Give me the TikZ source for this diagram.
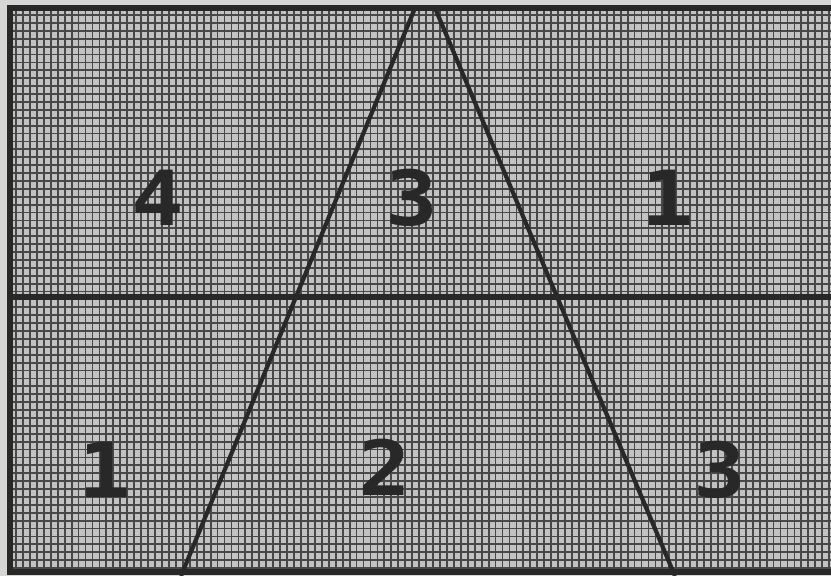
\documentclass[tikz,border=0pt]{standalone}
\usepackage{fontspec}
\newfontfamily\digitfont{DejaVu Sans Mono}
\usetikzlibrary{calc}
\definecolor{paper}{RGB}{214,214,212}
\definecolor{cellgray}{RGB}{194,194,194}
\definecolor{ink}{RGB}{40,40,40}

\tikzset{
  gridline/.style={ink!85,line width=1.8pt},
  border/.style={ink,line width=5.5pt},
  cutline/.style={ink,line width=4.2pt},
  region/.style={ink,font=\digitfont\bfseries\fontsize{76}{76}\selectfont,inner sep=0pt,xscale=1.15}
}

\begin{document}
\begin{tikzpicture}[x=1pt,y=-1pt]
  \useasboundingbox (0,0) rectangle (831,576);
  \fill[paper] (0,0) rectangle (831,576);
  \fill[cellgray] (10,8) rectangle (831,572);
  % fine grid
  \foreach \i in {0,...,117}
    \draw[gridline] ({16+6.95*\i},10) -- ({16+6.95*\i},572);
  \foreach \j in {0,...,70}
    \draw[gridline] (10,{15+7.9*\j}) -- (831,{15+7.9*\j});
  % frame and middle line
  \draw[border] (831,8) -- (10,8) -- (10,572) -- (831,572);
  \draw[border] (10,297) -- (831,297);
  % the two slanted lines
  \coordinate (lt) at (415,8);
  \coordinate (lb) at (181,576);
  \coordinate (rt) at (435,8);
  \coordinate (rb) at (675,576);
  \draw[cutline] (lt) -- (lb);
  \draw[cutline] (rt) -- (rb);
  % region numbers
  \node[region] (n4) at (158,198) {4};
  \node[region] (n3a) at (412,198) {3};
  \node[region] (n1a) at (668,198) {1};
  \node[region] (n1b) at (105,470) {1};
  \node[region] (n2) at (385,467) {2};
  \node[region] (n3b) at (720,470) {3};
\end{tikzpicture}
\end{document}
